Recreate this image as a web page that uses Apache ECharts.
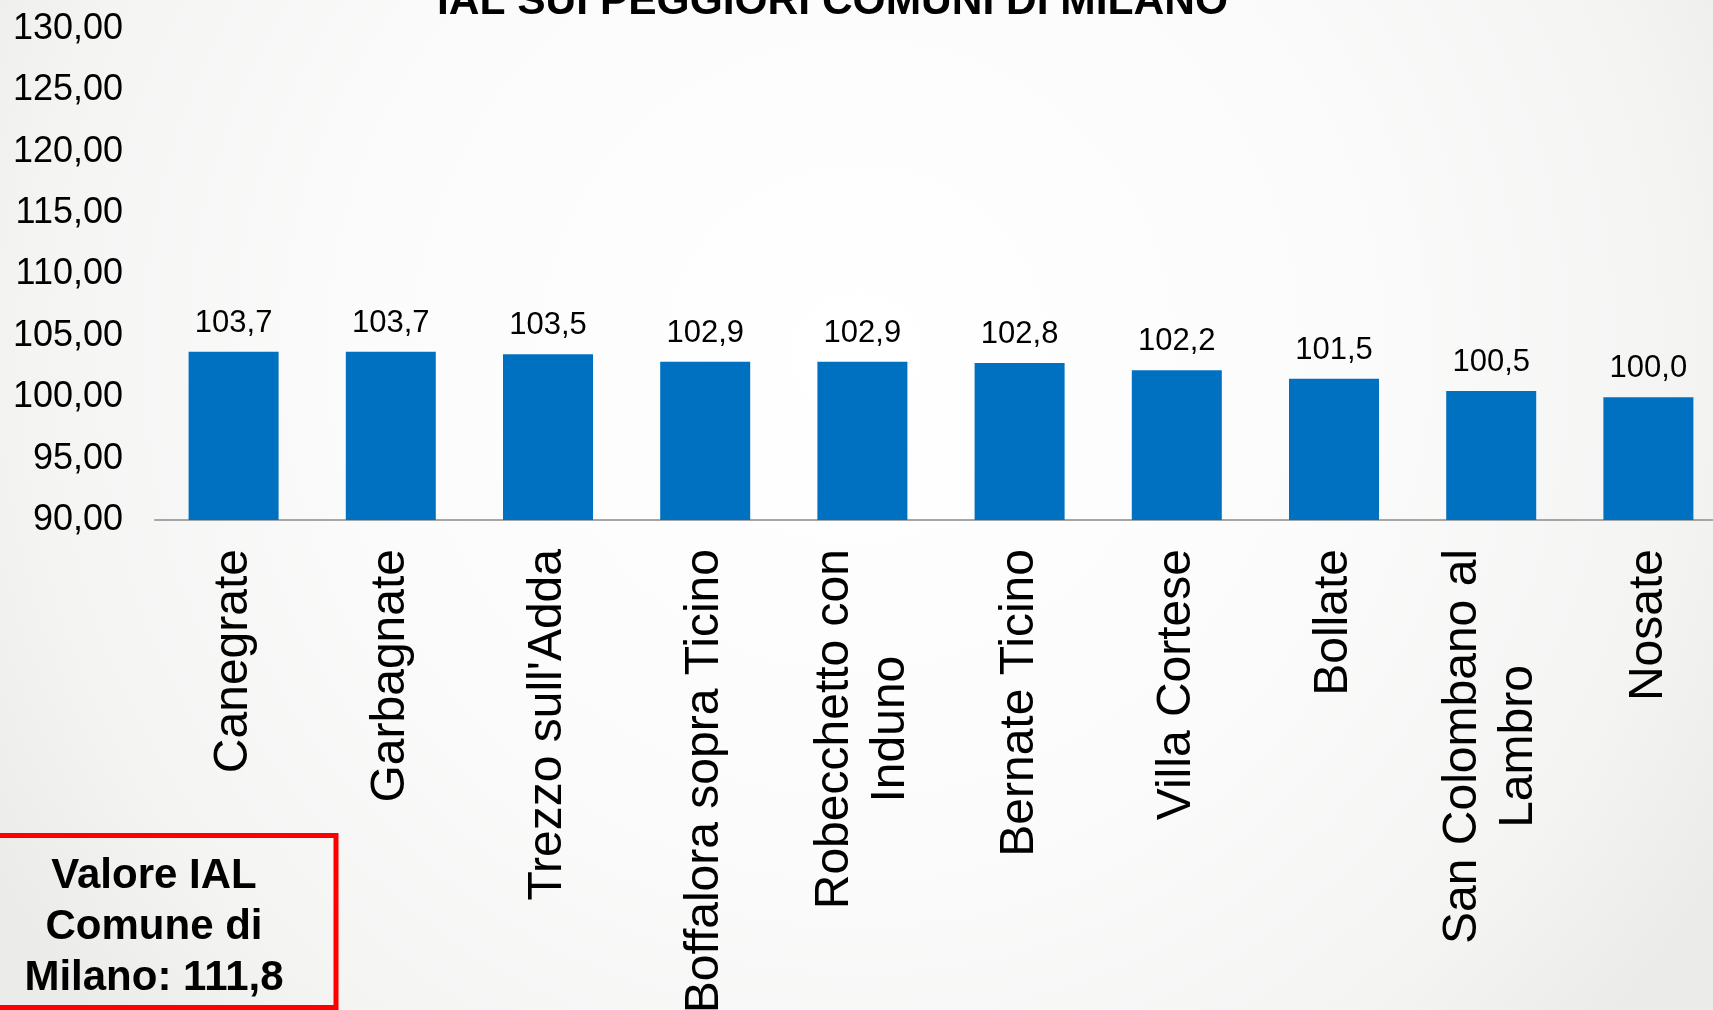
<!DOCTYPE html>
<html>
<head>
<meta charset="utf-8">
<script src="https://cdn.jsdelivr.net/npm/echarts@6/dist/echarts.min.js"></script>
<style>
html,body{margin:0;padding:0;width:1713px;height:1010px;overflow:hidden;}
#chart{width:1713px;height:1010px;}
</style>
</head>
<body>
<div id="chart"></div>
<script>
const categories = ['Canegrate','Garbagnate',"Trezzo sull'Adda",'Boffalora sopra Ticino','Robecchetto con\nInduno','Bernate Ticino','Villa Cortese','Bollate','San Colombano al\nLambro','Nosate'];
const values = [103.7,103.7,103.5,102.9,102.9,102.8,102.2,101.5,100.5,100.0];
const yTicks = {min:90, max:130, interval:5};
const titleText = 'IAL SUI PEGGIORI COMUNI DI MILANO';
const boxText = 'Valore IAL\nComune di\nMilano: 111,8';

const chart = echarts.init(document.getElementById('chart'));
const font = 'Liberation Sans, Arial, sans-serif';
chart.setOption({
  backgroundColor: {
    type:'radial', x:0.5, y:0.35, r:1.0,
    colorStops:[{offset:0,color:'#ffffff'},{offset:0.5,color:'#fbfbfb'},{offset:0.82,color:'#f4f4f3'},{offset:1,color:'#ebebe9'}]
  },
  title: {
    text: titleText, left: 437, top: -19, padding: 0,
    textStyle:{fontFamily:font, fontSize:42.5, fontWeight:'bold', color:'#000'}
  },
  grid: {left:155, top:29, width:1572, height:491, containLabel:false, outerBoundsMode:'none'},
  xAxis: {
    type:'category', data:categories,
    axisLine:{show:true, lineStyle:{color:'#a6a6a6', width:2}},
    axisTick:{show:false},
    axisLabel:{
      interval:0, rotate:90, margin:29, color:'#000',
      fontFamily:font, fontSize:48, lineHeight:56,
      formatter: function(v){ return v.split('\n').map(function(s){return '{c|'+s+'}';}).join('\n'); },
      rich:{c:{align:'center', fontFamily:font, fontSize:48, lineHeight:56, color:'#000'}}
    }
  },
  yAxis: {
    type:'value', min:yTicks.min, max:yTicks.max, interval:yTicks.interval,
    axisLine:{show:false}, axisTick:{show:false}, splitLine:{show:false},
    axisLabel:{margin:32, color:'#000', fontFamily:font, fontSize:36,
      formatter:function(v){return v.toFixed(2).replace('.',',');}}
  },
  series:[{
    type:'bar', data:values, barWidth:90,
    itemStyle:{color:'#0070C0'},
    label:{show:true, position:'top', distance:13, color:'#000', fontFamily:font, fontSize:31,
      formatter:function(p){return p.value.toFixed(1).replace('.',',');}}
  }],
  graphic:[
    {type:'rect', shape:{x:-30, y:835.5, width:366, height:172}, style:{fill:'transparent', stroke:'#ff0000', lineWidth:5}},
    {type:'text', x:154, y:927, style:{text:boxText, x:0, y:0, align:'center', verticalAlign:'middle', fontFamily:font, fontSize:42, fontWeight:'bold', lineHeight:51, fill:'#000'}}
  ],
  animation:false
});
</script>
</body>
</html>
